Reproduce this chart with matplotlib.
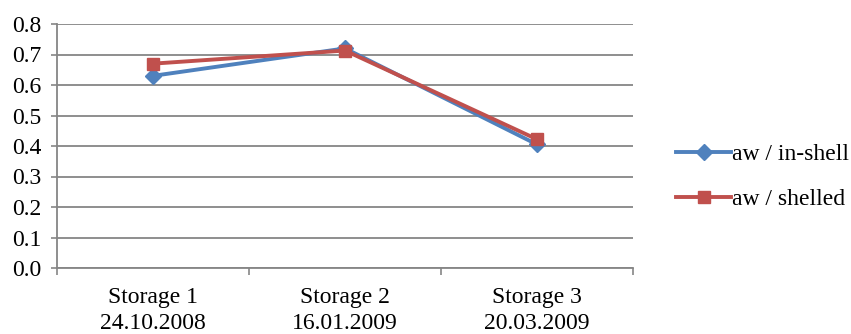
import matplotlib.pyplot as plt

CATEGORIES = ["Storage 1\n24.10.2008", "Storage 2\n16.01.2009", "Storage 3\n20.03.2009"]
IN_SHELL = [0.63, 0.72, 0.405]
SHELLED = [0.67, 0.713, 0.422]
Y_TICKS = [0.0, 0.1, 0.2, 0.3, 0.4, 0.5, 0.6, 0.7, 0.8]

BLUE = "#4F81BD"
RED = "#C0504D"
GRID = "#868686"
FONT_SIZE = 17


def main() -> None:
    plt.rcParams["font.family"] = ["Liberation Serif", "DejaVu Serif"]

    fig = plt.figure(figsize=(8.51, 3.34), dpi=100)
    ax = fig.add_axes([57 / 851, 66 / 334, 576 / 851, 244 / 334])

    x = list(range(len(CATEGORIES)))
    ax.plot(x, IN_SHELL, color=BLUE, linewidth=2.8, marker="D", markersize=8.5,
            label="aw / in-shell", zorder=3)
    ax.plot(x, SHELLED, color=RED, linewidth=2.8, marker="s", markersize=8.5,
            label="aw / shelled", zorder=4)

    # Category axis with ticks between categories
    ax.set_xlim(-0.5, len(CATEGORIES) - 0.5)
    ax.set_xticks([i - 0.5 for i in range(len(CATEGORIES) + 1)], minor=False)
    ax.set_xticklabels([])
    ax.set_xticks(x, minor=True)
    ax.set_xticklabels(CATEGORIES, minor=True, fontsize=FONT_SIZE, linespacing=1.3)
    ax.tick_params(axis="x", which="major", length=5, width=1.2, color=GRID, direction="out")
    ax.tick_params(axis="x", which="minor", length=0, pad=14)

    ax.set_ylim(0, 0.8)
    ax.set_yticks(Y_TICKS)
    ax.set_yticklabels([f"{v:.1f}" for v in Y_TICKS], fontsize=FONT_SIZE)
    ax.tick_params(axis="y", length=4, width=1.2, color=GRID, pad=7)
    ax.yaxis.grid(True, color=GRID, linewidth=1.3)
    ax.set_axisbelow(True)

    for side in ["top", "right"]:
        ax.spines[side].set_visible(False)
    for side in ["left", "bottom"]:
        ax.spines[side].set_color(GRID)
        ax.spines[side].set_linewidth(1.3)

    fig.legend(loc="upper left", bbox_to_anchor=(667 / 851, 1 - 134 / 334),
               frameon=False, fontsize=FONT_SIZE, handlelength=2.3, handletextpad=0.05,
               labelspacing=1.0, borderaxespad=0)

    fig.savefig("out.png", dpi=100)


if __name__ == "__main__":
    main()
